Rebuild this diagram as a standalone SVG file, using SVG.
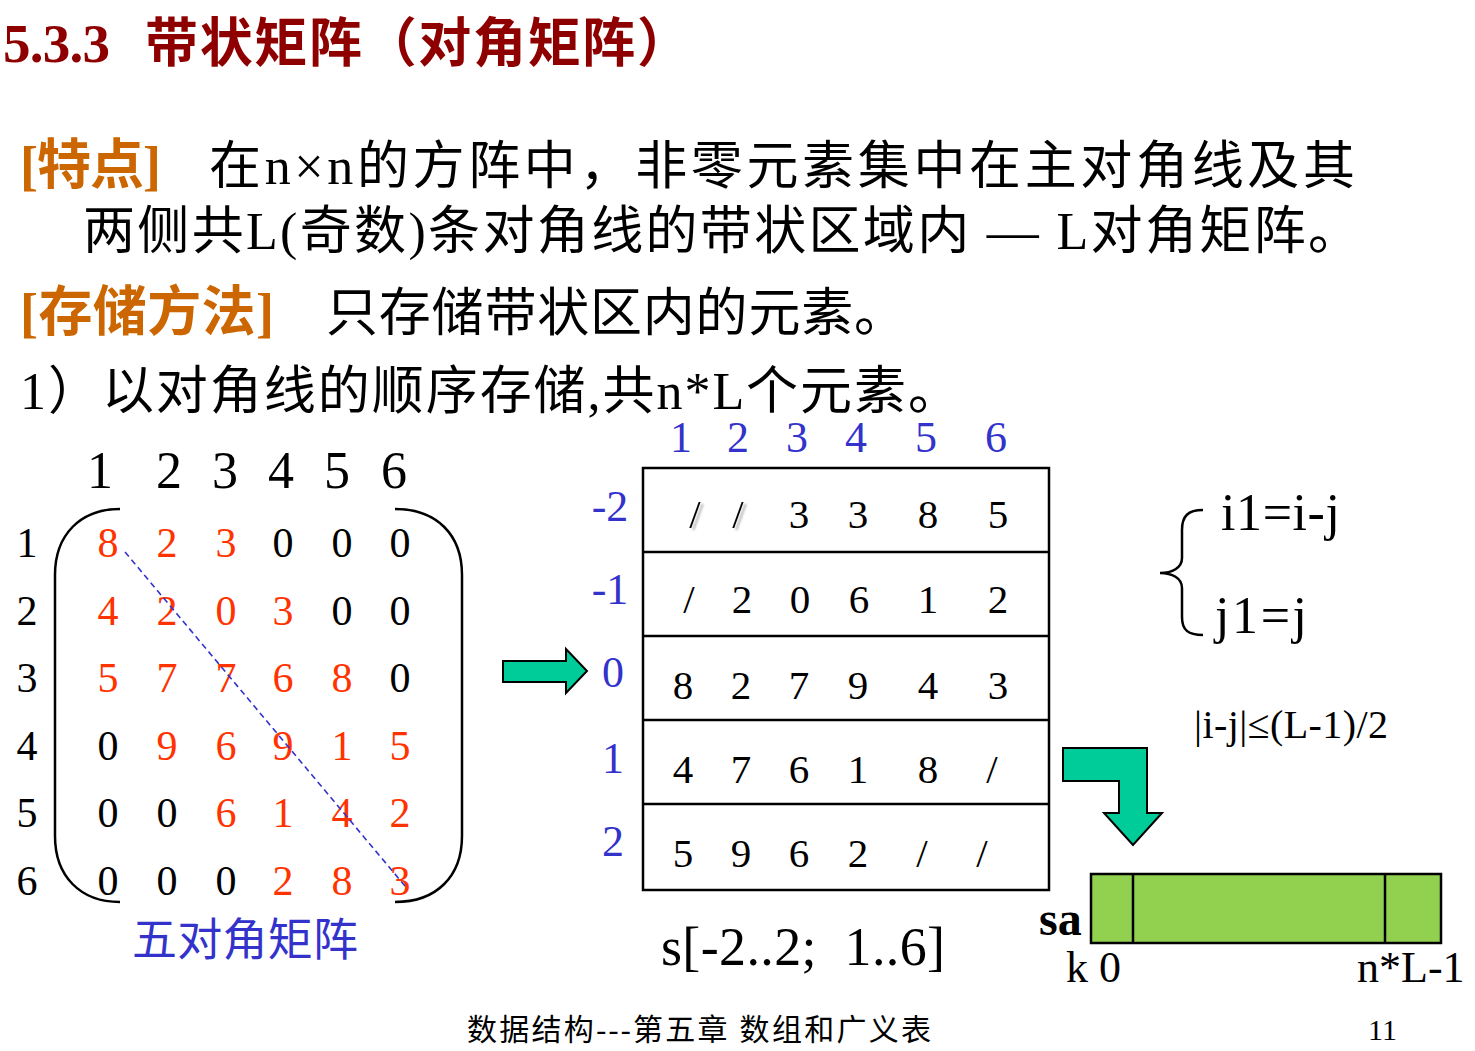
<svg xmlns="http://www.w3.org/2000/svg" width="1475" height="1051" viewBox="0 0 1475 1051">
<style>
text{font-family:"Liberation Serif","Noto Sans CJK SC",serif;}
.title{fill:#8E0000;font-weight:bold;}
.org{fill:#CC6600;font-weight:bold;}
.blk{fill:#000;}
.red{fill:#FF3300;}
.blue{fill:#3333CC;}
.m{font-size:42px;text-anchor:middle;}
.c{font-size:41px;text-anchor:middle;fill:#000;}
.h{font-size:44px;text-anchor:middle;fill:#3333CC;}
.line{stroke:#000;stroke-width:2.5;fill:none;}
.green{fill:#00CC99;stroke:#000;stroke-width:2;}
</style>
<defs>
<filter id="sh" x="-50%" y="-50%" width="200%" height="200%">
<feDropShadow dx="3" dy="2" stdDeviation="1.2" flood-color="#888" flood-opacity="0.7"/>
</filter>
</defs>
<rect width="1475" height="1051" fill="#fff"/>

<g id="title">
<text x="3" y="62" class="title" font-size="55" textLength="107">5.3.3</text>
<text x="145" y="62" class="title" font-size="53" textLength="545">带状矩阵（对角矩阵）</text>
</g>

<g id="feature">
<text x="20" y="184" class="org" font-size="54" textLength="141">[特点]</text>
<text x="209" y="184" class="blk" font-size="52" textLength="1146">在n×n的方阵中，非零元素集中在主对角线及其</text>
<text x="83" y="249" class="blk" font-size="52" textLength="1277">两侧共L(奇数)条对角线的带状区域内 — L对角矩阵。</text>
</g>

<g id="storage">
<text x="20" y="331" class="org" font-size="54" textLength="254">[存储方法]</text>
<text x="326" y="331" class="blk" font-size="52" textLength="580">只存储带状区内的元素。</text>
<text x="20" y="409" class="blk" font-size="52" textLength="940">1）以对角线的顺序存储,共n*L个元素。</text>
</g>

<g id="matrix">
<g font-size="52" text-anchor="middle" class="blk">
<text x="100" y="488">1</text><text x="169" y="488">2</text><text x="225" y="488">3</text>
<text x="281" y="488">4</text><text x="337" y="488">5</text><text x="394" y="488">6</text>
</g>
<g class="m blk">
<text x="27" y="557">1</text><text x="27" y="625">2</text><text x="27" y="692">3</text>
<text x="27" y="760">4</text><text x="27" y="827">5</text><text x="27" y="895">6</text>
</g>
<path class="line" d="M120,509 C80,509 55,535 55,575 L55,836 C55,876 80,902 120,902"/>
<path class="line" d="M395,509 C437,509 462,535 462,575 L462,836 C462,876 437,902 395,902"/>
<g class="m">
<text x="108" y="557" class="red">8</text><text x="167" y="557" class="red">2</text><text x="226" y="557" class="red">3</text>
<text x="283" y="557" class="blk">0</text><text x="342" y="557" class="blk">0</text><text x="400" y="557" class="blk">0</text>

<text x="108" y="625" class="red">4</text><text x="167" y="625" class="red">2</text><text x="226" y="625" class="red">0</text>
<text x="283" y="625" class="red">3</text><text x="342" y="625" class="blk">0</text><text x="400" y="625" class="blk">0</text>

<text x="108" y="692" class="red">5</text><text x="167" y="692" class="red">7</text><text x="226" y="692" class="red">7</text>
<text x="283" y="692" class="red">6</text><text x="342" y="692" class="red">8</text><text x="400" y="692" class="blk">0</text>

<text x="108" y="760" class="blk">0</text><text x="167" y="760" class="red">9</text><text x="226" y="760" class="red">6</text>
<text x="283" y="760" class="red">9</text><text x="342" y="760" class="red">1</text><text x="400" y="760" class="red">5</text>

<text x="108" y="827" class="blk">0</text><text x="167" y="827" class="blk">0</text><text x="226" y="827" class="red">6</text>
<text x="283" y="827" class="red">1</text><text x="342" y="827" class="red">4</text><text x="400" y="827" class="red">2</text>

<text x="108" y="895" class="blk">0</text><text x="167" y="895" class="blk">0</text><text x="226" y="895" class="blk">0</text>
<text x="283" y="895" class="red">2</text><text x="342" y="895" class="red">8</text><text x="400" y="895" class="red">3</text>
</g>
<line x1="125" y1="552" x2="405" y2="886" stroke="#3333CC" stroke-width="1.6" stroke-dasharray="6,4"/>
<text x="132" y="956" class="blue" font-size="45" textLength="226">五对角矩阵</text>
</g>

<g id="table">
<g class="h">
<text x="681" y="452">1</text><text x="738" y="452">2</text><text x="797" y="452">3</text>
<text x="856" y="452">4</text><text x="926" y="452">5</text><text x="996" y="452">6</text>
</g>
<g class="h">
<text x="610" y="521">-2</text><text x="610" y="604">-1</text><text x="613" y="687">0</text>
<text x="613" y="773">1</text><text x="613" y="856">2</text>
</g>
<rect x="643" y="468" width="406" height="422" class="line"/>
<line x1="643" y1="552" x2="1049" y2="552" class="line"/>
<line x1="643" y1="636" x2="1049" y2="636" class="line"/>
<line x1="643" y1="720" x2="1049" y2="720" class="line"/>
<line x1="643" y1="804" x2="1049" y2="804" class="line"/>
<g class="c">
<text x="695" y="528" filter="url(#sh)">/</text><text x="738" y="528" filter="url(#sh)">/</text>
<text x="799" y="528">3</text><text x="858" y="528">3</text><text x="928" y="528">8</text><text x="998" y="528">5</text>

<text x="689" y="613">/</text><text x="742" y="613">2</text><text x="800" y="613">0</text>
<text x="859" y="613">6</text><text x="928" y="613">1</text><text x="998" y="613">2</text>

<text x="683" y="699">8</text><text x="741" y="699">2</text><text x="799" y="699">7</text>
<text x="858" y="699">9</text><text x="928" y="699">4</text><text x="998" y="699">3</text>

<text x="683" y="783">4</text><text x="741" y="783">7</text><text x="799" y="783">6</text>
<text x="858" y="783">1</text><text x="928" y="783">8</text><text x="992" y="783">/</text>

<text x="683" y="867">5</text><text x="741" y="867">9</text><text x="799" y="867">6</text>
<text x="858" y="867">2</text><text x="922" y="867">/</text><text x="982" y="867">/</text>
</g>
<text x="661" y="965" class="blk" font-size="54" textLength="284">s[-2..2;&#160; 1..6]</text>
</g>

<g id="formula">
<path class="line" stroke-width="2" d="M1203,510 C1188,510 1182,516 1182,530 L1182,558 C1182,568 1172,573 1160,573 C1172,573 1182,578 1182,588 L1182,617 C1182,630 1188,635 1203,635"/>
<text x="1221" y="530" class="blk" font-size="52" textLength="119">i1=i-j</text>
<text x="1215" y="633" class="blk" font-size="52" textLength="92">j1=j</text>
<text x="1194" y="738" class="blk" font-size="40" textLength="194">|i-j|≤(L-1)/2</text>
</g>

<g id="sa">
<rect x="1091" y="874" width="350" height="69" fill="#92D050" stroke="#000" stroke-width="2.5"/>
<line x1="1133" y1="874" x2="1133" y2="943" class="line"/>
<line x1="1385" y1="874" x2="1385" y2="943" class="line"/>
<text x="1039" y="935" class="blk" font-size="48" font-weight="bold">sa</text>
<text x="1066" y="982" class="blk" font-size="44">k 0</text>
<text x="1357" y="982" class="blk" font-size="44">n*L-1</text>
</g>

<g id="connectors">
<polygon class="green" points="503,661 566,661 566,649 587,671 566,693 566,682 503,682"/>
<polygon class="green" points="1063,748 1147,748 1147,813 1162,813 1133,845 1104,813 1119,813 1119,781 1063,781"/>
</g>

<g id="footer">
<text x="467" y="1040" class="blk" font-size="30" textLength="464">数据结构---第五章 数组和广义表</text>
<text x="1368" y="1040" class="blk" font-size="30">11</text>
</g>
</svg>
